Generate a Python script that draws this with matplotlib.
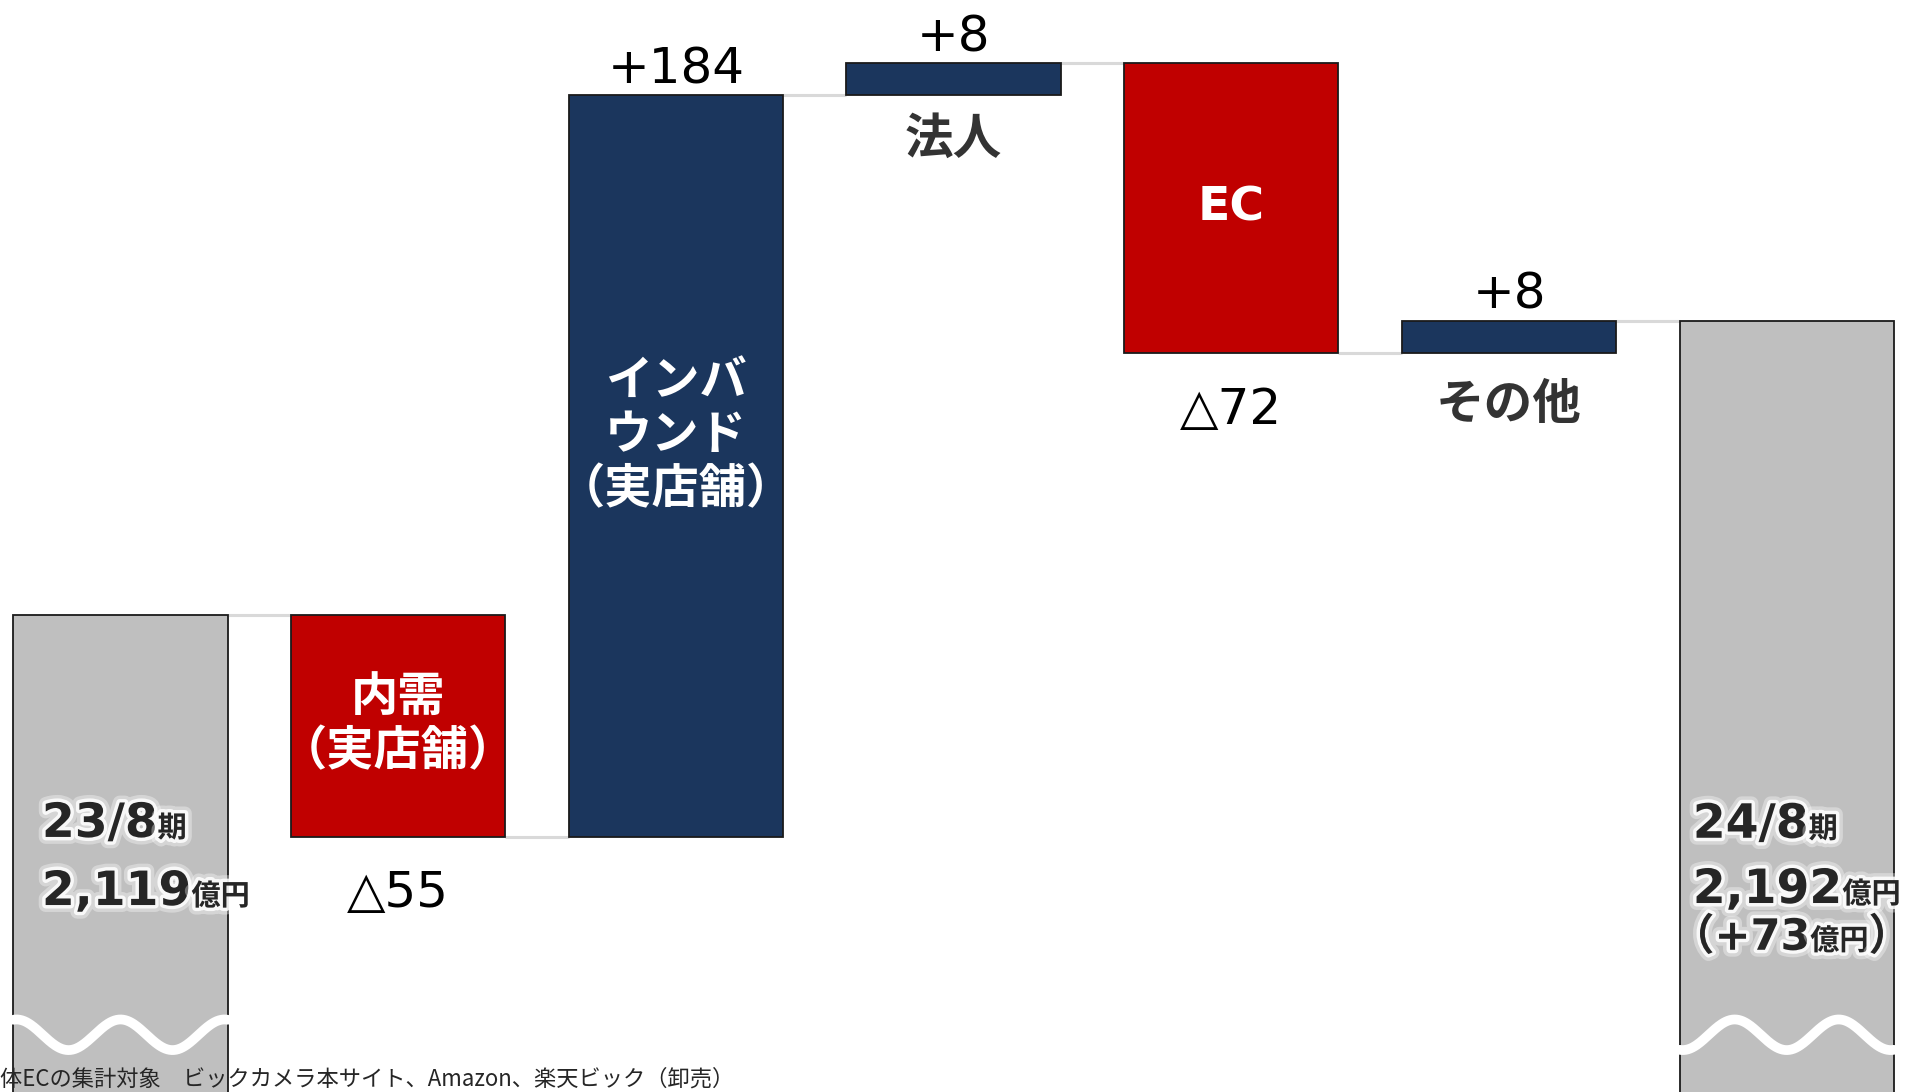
import matplotlib.pyplot as plt
import matplotlib.patheffects as pe
import numpy as np

plt.rcParams['font.family'] = ['DejaVu Sans', 'Noto Sans CJK JP']

# ---- data (億円) ----
start_value = 2119
end_value = 2192
step_names = ["内需\n（実店舗）", "インバ\nウンド\n（実店舗）", "法人", "EC", "その他"]
step_deltas = [-55, 184, 8, -72, 8]
step_texts = ["△55", "+184", "+8", "△72", "+8"]
start_lines = [[("23/8", 34), ("期", 21)],
               [("2,119", 34), ("億円", 21)]]
end_lines = [[("24/8", 34), ("期", 21)],
             [("2,192", 34), ("億円", 21)],
             [("（+73", 31), ("億円", 21), ("）", 31)]]
note = "体ECの集計対象　ビックカメラ本サイト、Amazon、楽天ビック（卸売）"

# ---- styles ----
GRAY = "#bfbfbf"
RED = "#c00000"
NAVY = "#1b365d"
DARK = "#262626"
CJK = ['Noto Sans CJK JP', 'DejaVu Sans']
W = 0.772

cum = [start_value]
for d in step_deltas:
    cum.append(cum[-1] + d)

fig = plt.figure(figsize=(19.1, 10.92), dpi=100)
ax = fig.add_axes([0, 0, 1, 1])
ax.set_xlim(-0.434, 6.444)
ax.set_ylim(2000.6, 2271.6)
ax.axis('off')

xs = np.arange(len(step_deltas) + 2)

# totals
ax.bar([xs[0], xs[-1]], [start_value, end_value], width=W, color=GRAY,
       edgecolor="#1a1a1a", linewidth=1.3, zorder=2)

# steps
lows = [min(cum[i], cum[i + 1]) for i in range(len(step_deltas))]
heights = [abs(d) for d in step_deltas]
colors = [NAVY if d > 0 else RED for d in step_deltas]
ax.bar(xs[1:-1], heights, bottom=lows, width=W, color=colors,
       edgecolor="#1a1a1a", linewidth=1.3, zorder=2)

# connectors
for i in range(len(xs) - 1):
    ax.hlines(cum[i], xs[i] + W / 2, xs[i + 1] - W / 2, color="#d9d9d9",
              linewidth=2.2, zorder=1)

# value labels
for i, (d, s) in enumerate(zip(step_deltas, step_texts)):
    x = xs[i + 1]
    if d > 0:
        ax.annotate(s, (x, max(cum[i], cum[i + 1])), xytext=(0, 8.5),
                    textcoords='offset points', ha='center', va='baseline',
                    fontsize=36, color='black')
    else:
        ax.annotate(s, (x, min(cum[i], cum[i + 1])), xytext=(0, -51),
                    textcoords='offset points', ha='center', va='baseline',
                    fontsize=36, color='black')

# name labels: inside big bars, below small ones
name_dy = [0, 21, -32, 0, -37]
for i, name in enumerate(step_names):
    x = xs[i + 1]
    if heights[i] > 20:
        ax.annotate(name, (x, lows[i] + heights[i] / 2), xytext=(0, name_dy[i]),
                    textcoords='offset points', ha='center', va='center',
                    fontsize=34, color='white', fontweight='bold',
                    linespacing=1.25, zorder=4)
    else:
        ax.annotate(name, (x, lows[i]), xytext=(0, name_dy[i]),
                    textcoords='offset points', ha='center', va='center',
                    fontsize=35, color='#333333', fontweight='bold',
                    family=CJK, zorder=4)

# wavy break marks on the total bars
t = np.linspace(-W / 2, W / 2, 200)
period = 0.3745
ax.plot(xs[0] + t, 2014.8 + 3.8 * np.cos(2 * np.pi * t / period),
        color='white', linewidth=7, solid_capstyle='round', zorder=3)
ax.plot(xs[-1] + t, 2014.8 - 3.8 * np.cos(2 * np.pi * t / period),
        color='white', linewidth=7, solid_capstyle='round', zorder=3)

# period labels with white glow
glow = [pe.Stroke(linewidth=10, foreground='white', alpha=0.35),
        pe.Stroke(linewidth=5, foreground='white', alpha=0.85),
        pe.Normal()]
renderer = fig.canvas.get_renderer()


def draw_line(x, y, pieces):
    for s, size in pieces:
        txt = ax.text(x, y, s, fontsize=size, fontweight='bold', color=DARK,
                      ha='left', va='baseline', path_effects=glow, zorder=5)
        bb = txt.get_window_extent(renderer)
        x = ax.transData.inverted().transform((bb.x1, bb.y0))[0]


draw_line(-0.283, 2063.9, start_lines[0])
draw_line(-0.283, 2047.0, start_lines[1])
draw_line(5.662, 2063.7, end_lines[0])
draw_line(5.662, 2047.5, end_lines[1])
draw_line(5.585, 2035.9, end_lines[2])

fig.text(0.0, 0.0119, note, fontsize=16, color=DARK, ha='left', va='center',
         family=CJK)

fig.savefig("out.png", dpi=100)
